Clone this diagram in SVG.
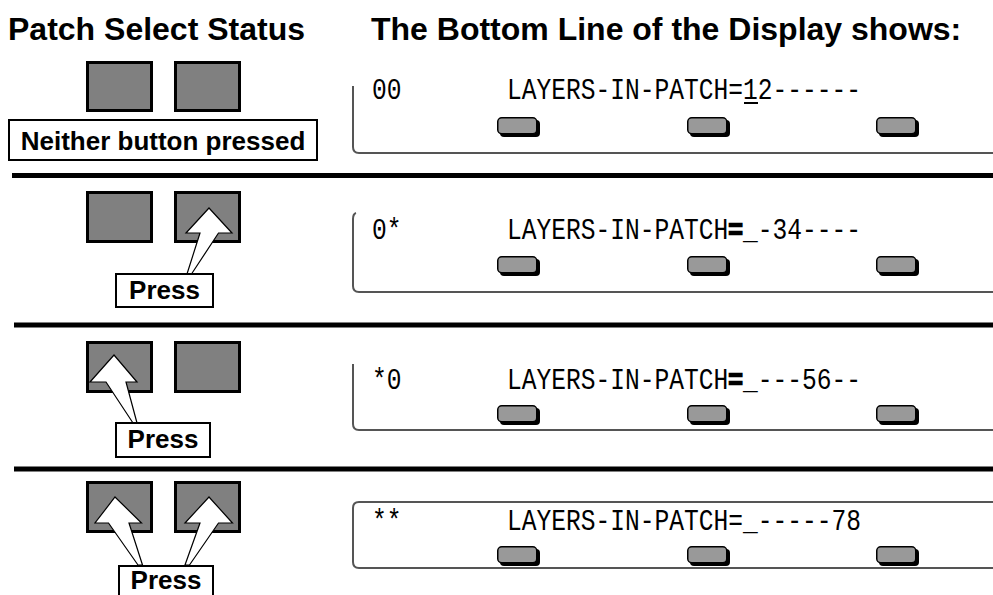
<svg xmlns="http://www.w3.org/2000/svg" width="993" height="595" viewBox="0 0 993 595">
<style>
.hdr{font-family:"Liberation Sans",Arial,sans-serif;font-weight:bold;font-size:32px;fill:#000}
.lbl{font-family:"Liberation Sans",Arial,sans-serif;font-weight:bold;font-size:26px;fill:#000;text-anchor:middle}
.box{fill:#fff;stroke:#000;stroke-width:2}
.pbtn{fill:#808080;stroke:#000;stroke-width:3}
.sep{stroke:#000;stroke-width:5}
.frame{fill:none;stroke:#555;stroke-width:2}
.lcd{font-family:"Liberation Mono","DejaVu Sans Mono",monospace;font-size:24.6px;fill:#000}
.blk{stroke:#000;stroke-width:2}
.arrow{fill:#fff;stroke:#000;stroke-width:1.2;stroke-linejoin:miter}
</style>
<defs>
<g id="sbtn">
<rect x="3" y="3" width="40" height="17" rx="4" fill="#000"/>
<rect x="0.75" y="0.75" width="39" height="16" rx="4" fill="#999" stroke="#000" stroke-width="1.5"/>
</g>
</defs>

<!-- headers -->
<text class="hdr" x="8" y="40">Patch Select Status</text>
<text class="hdr" x="371" y="40">The Bottom Line of the Display shows:</text>

<!-- separators -->
<g id="connectors">
<line class="sep" x1="12" y1="175.5" x2="993" y2="175.5"/>
<line class="sep" x1="14" y1="325" x2="993" y2="325"/>
<line class="sep" x1="14" y1="469" x2="993" y2="469"/>
</g>

<!-- Row 1 -->
<g id="row1-buttons">
<rect class="pbtn" x="87.5" y="62.5" width="64" height="48"/>
<rect class="pbtn" x="175.5" y="62.5" width="64" height="48"/>
</g>
<g id="row1-label">
<rect class="box" x="9" y="120" width="308" height="40"/>
<text class="lbl" x="163" y="150">Neither button pressed</text>
</g>
<g id="row1-display">
<path class="frame" d="M353,86 L353,147 Q353,153 359,153 L993,153"/>
<text class="lcd" transform="translate(372,99) scale(1,1.18)">00</text>
<text class="lcd" transform="translate(507,99) scale(1,1.18)">LAYERS-IN-PATCH=12------</text>
<rect x="744" y="102" width="14" height="2" fill="#000"/>
<use href="#sbtn" x="497" y="117"/>
<use href="#sbtn" x="687" y="117"/>
<use href="#sbtn" x="876" y="117"/>
</g>

<!-- Row 2 -->
<g id="row2-buttons">
<rect class="pbtn" x="87.5" y="192.5" width="64" height="49"/>
<rect class="pbtn" x="175.5" y="192.5" width="64" height="49"/>
<polygon class="arrow" points="209,208 232,233 218.5,233 191.5,274 187,274 200,233 186,233"/>
</g>
<g id="row2-label">
<rect class="box" x="116" y="274" width="97" height="33"/>
<text class="lbl" x="164.5" y="299">Press</text>
</g>
<g id="row2-display">
<path class="frame" d="M356,213 Q353,214 353,219 L353,286 Q353,292 359,292 L993,292"/>
<text class="lcd" transform="translate(372,239) scale(1,1.18)">0*</text>
<text class="lcd" transform="translate(507,239) scale(1,1.18)">LAYERS-IN-PATCH<tspan class="blk">=</tspan>_-34----</text>
<use href="#sbtn" x="497" y="256"/>
<use href="#sbtn" x="687" y="256"/>
<use href="#sbtn" x="876" y="256"/>
</g>

<!-- Row 3 -->
<g id="row3-buttons">
<rect class="pbtn" x="87.5" y="342.5" width="64" height="49"/>
<rect class="pbtn" x="175.5" y="342.5" width="64" height="49"/>
<polygon class="arrow" points="114,355 137,382 126,382 137,423 133,423 106,382 90,382"/>
</g>
<g id="row3-label">
<rect class="box" x="116" y="423" width="94" height="34"/>
<text class="lbl" x="163" y="448">Press</text>
</g>
<g id="row3-display">
<path class="frame" d="M353,364 L353,424 Q353,430 359,430 L993,430"/>
<text class="lcd" transform="translate(372,389) scale(1,1.18)">*0</text>
<text class="lcd" transform="translate(507,389) scale(1,1.18)">LAYERS-IN-PATCH<tspan class="blk">=</tspan>_---56--</text>
<use href="#sbtn" x="497" y="405"/>
<use href="#sbtn" x="687" y="405"/>
<use href="#sbtn" x="876" y="405"/>
</g>

<!-- Row 4 -->
<g id="row4-buttons">
<rect class="pbtn" x="87.5" y="482.5" width="64" height="49"/>
<rect class="pbtn" x="175.5" y="482.5" width="64" height="49"/>
<polygon class="arrow" points="115,497 141.5,523 129,523 142.5,565 138,565 108.5,523 95,523"/>
<polygon class="arrow" points="209,497 232.5,523 218.5,523 189.5,565 185,565 200,523 185,523"/>
</g>
<g id="row4-label">
<rect class="box" x="119" y="566" width="94" height="36"/>
<text class="lbl" x="166" y="589">Press</text>
</g>
<g id="row4-display">
<path class="frame" d="M993,502 L359,502 Q353,502 353,508 L353,562 Q353,568 359,568 L993,568"/>
<text class="lcd" transform="translate(372,530) scale(1,1.18)">**</text>
<text class="lcd" transform="translate(507,530) scale(1,1.18)">LAYERS-IN-PATCH=_-----78</text>
<use href="#sbtn" x="497" y="546"/>
<use href="#sbtn" x="687" y="546"/>
<use href="#sbtn" x="876" y="546"/>
</g>
</svg>
